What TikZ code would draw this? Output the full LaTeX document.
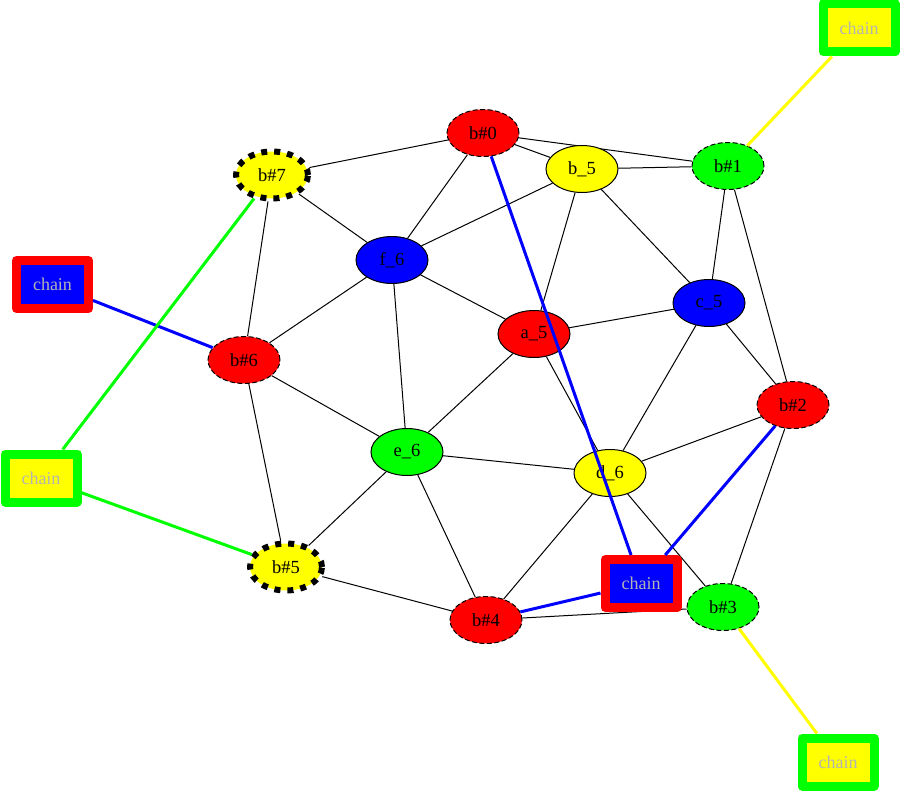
\documentclass[tikz,border=0pt]{standalone}
\usepackage{fontspec}
\setmainfont{Liberation Serif}
\usetikzlibrary{shapes.geometric}
\pgfdeclarelayer{background}
\pgfsetlayers{background,main}
\definecolor{gR}{RGB}{255,0,0}
\definecolor{gY}{RGB}{255,255,0}
\definecolor{gG}{RGB}{0,255,0}
\definecolor{gB}{RGB}{0,0,255}
\definecolor{gT}{RGB}{180,180,180}
\tikzset{
  gv/.style={ellipse, minimum width=72pt, minimum height=47pt, inner sep=0pt, draw=black, line width=1pt, font=\fontsize{18.5}{21}\selectfont},
  thindash/.style={dash pattern=on 5pt off 2.5pt},
  thickdash/.style={line width=6pt, dash pattern=on 6pt off 7pt},
  chainbox/.style={rectangle, minimum width=72pt, minimum height=48pt, inner sep=0pt, line width=9pt, line join=round, text=gT, font=\fontsize{18}{20}\selectfont},
  ed/.style={line width=1pt, black},
  ced/.style={line width=3pt},
}
\begin{document}
\begin{tikzpicture}[x=1pt,y=-1pt]
\useasboundingbox (0,0) rectangle (900,792);
% graph nodes
\node[gv, fill=gR, thindash] (b0) at (483,133) {b\#0};
\node[gv, fill=gY] (bu5) at (582,169) {b\_5};
\node[gv, fill=gG, thindash] (b1) at (728,166) {b\#1};
\node[gv, fill=gY, thickdash] (b7) at (272,175) {b\#7};
\node[gv, fill=gB] (f6) at (392,260) {f\_6};
\node[gv, fill=gB] (c5) at (709,303) {c\_5};
\node[gv, fill=gR] (a5) at (534,334) {a\_5};
\node[gv, fill=gR, thindash] (b6) at (244,360) {b\#6};
\node[gv, fill=gR, thindash] (b2) at (793,405) {b\#2};
\node[gv, fill=gG] (e6) at (407,452) {e\_6};
\node[gv, fill=gY] (d6) at (610,473) {d\_6};
\node[gv, fill=gY, thickdash] (b5) at (286,567) {b\#5};
\node[gv, fill=gR, thindash] (b4) at (486,620) {b\#4};
\node[gv, fill=gG, thindash] (b3) at (723,607) {b\#3};
% chain nodes
\node[chainbox, draw=gG, fill=gY] (ch1) at (859,28) {chain};
\node[chainbox, draw=gR, fill=gB] (ch2) at (52.5,284.5) {chain};
\node[chainbox, draw=gG, fill=gY] (ch3) at (41,478) {chain};
\node[chainbox, draw=gR, fill=gB] (ch4) at (641,583.5) {chain};
\node[chainbox, draw=gG, fill=gY] (ch5) at (838,762) {chain};
% black edges
\begin{pgfonlayer}{background}
\draw[ed] (b0) -- (b7);
\draw[ed] (b0) -- (bu5);
\draw[ed] (b0) -- (b1);
\draw[ed] (b0) -- (f6);
\draw[ed] (bu5) -- (b1);
\draw[ed] (bu5) -- (f6);
\draw[ed] (bu5) -- (a5);
\draw[ed] (bu5) -- (c5);
\draw[ed] (b1) -- (c5);
\draw[ed] (b1) -- (b2);
\draw[ed] (b7) -- (f6);
\draw[ed] (b7) -- (b6);
\draw[ed] (f6) -- (b6);
\draw[ed] (f6) -- (a5);
\draw[ed] (f6) -- (e6);
\draw[ed] (c5) -- (a5);
\draw[ed] (c5) -- (b2);
\draw[ed] (c5) -- (d6);
\draw[ed] (a5) -- (e6);
\draw[ed] (a5) -- (d6);
\draw[ed] (b6) -- (e6);
\draw[ed] (b6) -- (b5);
\draw[ed] (b2) -- (d6);
\draw[ed] (b2) -- (b3);
\draw[ed] (e6) -- (d6);
\draw[ed] (e6) -- (b5);
\draw[ed] (e6) -- (b4);
\draw[ed] (d6) -- (b4);
\draw[ed] (d6) -- (b3);
\draw[ed] (b5) -- (b4);
\draw[ed] (b4) -- (b3);
\end{pgfonlayer}
% coloured chain edges
\draw[ced, gY] (ch1) -- (b1);
\draw[ced, gB] (ch2) -- (b6);
\draw[ced, gG] (ch3) -- (b7);
\draw[ced, gG] (ch3) -- (b5);
\draw[ced, gB] (ch4) -- (b0);
\draw[ced, gB] (ch4) -- (b2);
\draw[ced, gB] (ch4) -- (b4);
\draw[ced, gY] (ch5) -- (b3);
\end{tikzpicture}
\end{document}
